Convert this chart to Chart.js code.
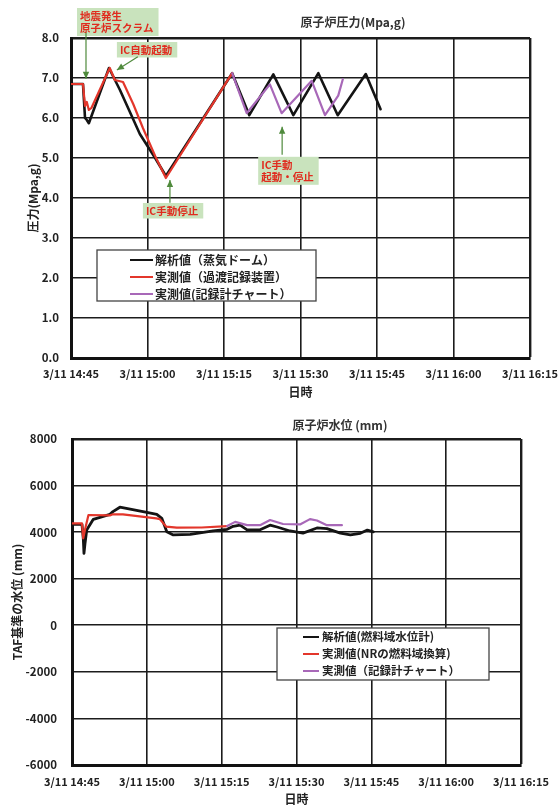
<!DOCTYPE html>
<html>
<head>
<meta charset="utf-8">
<script src="https://cdn.jsdelivr.net/npm/chart.js@4.4.0/dist/chart.umd.min.js"></script>
<style>
  html, body { margin: 0; padding: 0; background: #fff; }
  #page { position: relative; width: 558px; height: 807px; }
  canvas { position: absolute; left: 0; }
</style>
</head>
<body>
<div id="page">
  <canvas id="pressure" width="558" height="400" style="top:0"></canvas>
  <canvas id="level" width="558" height="407" style="top:400px"></canvas>
</div>
<script>
// ---- time axis: minutes after 3/11 14:45 ----
const timeTicks = [0, 15, 30, 45, 60, 75, 90];

// ---- reactor pressure (MPa gauge) ----
const presTicks = [0, 1, 2, 3, 4, 5, 6, 7, 8];
const presCalcT = [0, 2.35, 2.75, 3.1, 3.5, 7.45, 9.6, 13.5, 16.5, 18.6, 25.2, 31.6, 34.96, 39.67, 43.6, 48.5, 52.3, 57.8, 60.7];
const presCalcV = [6.85, 6.85, 6.0, 5.95, 5.87, 7.25, 6.7, 5.6, 5.0, 4.55, 5.85, 7.12, 6.07, 7.09, 6.07, 7.12, 6.07, 7.1, 6.22];
const presTrT = [0, 2.35, 2.75, 3.1, 3.5, 4.0, 7.6, 8.6, 10.2, 12.2, 14.1, 16.5, 18.6, 31.6];
const presTrV = [6.85, 6.85, 6.3, 6.4, 6.2, 6.25, 7.25, 6.95, 6.9, 6.35, 5.75, 5.05, 4.5, 7.12];
const presChT = [31.6, 34.45, 39.0, 41.3, 47.2, 49.8, 52.4, 53.3];
const presChV = [7.12, 6.12, 6.84, 6.12, 6.93, 6.07, 6.56, 6.97];

// ---- reactor water level above TAF (mm) ----
const lvlTicks = [-6000, -4000, -2000, 0, 2000, 4000, 6000, 8000];
const lvlCalcT = [0, 2.0, 2.27, 2.4, 2.6, 2.95, 4.27, 7.6, 8.2, 9.6, 15.0, 17.0, 18.0, 19.0, 20.3, 23.7, 28.3, 31.1, 32.3, 33.7, 35.1, 37.7, 39.7, 41.1, 43.7, 46.3, 49.1, 51.1, 53.8, 55.8, 57.8, 59.2, 60.4];
const lvlCalcV = [4337, 4337, 3700, 3090, 3500, 4090, 4550, 4766, 4880, 5070, 4850, 4766, 4594, 4020, 3880, 3900, 4050, 4120, 4250, 4300, 4100, 4100, 4300, 4220, 4050, 3960, 4180, 4150, 3960, 3880, 3950, 4090, 4010];
const lvlNrT = [0, 2.0, 2.25, 2.6, 3.3, 7.6, 8.2, 10.2, 16.9, 17.6, 18.9, 21.0, 26.0, 31.1];
const lvlNrV = [4380, 4380, 3735, 4100, 4736, 4720, 4766, 4766, 4590, 4560, 4234, 4190, 4200, 4260];
const lvlChT = [31.1, 32.7, 35.1, 37.7, 39.7, 42.3, 45.7, 47.7, 49.1, 51.1, 54.1];
const lvlChV = [4260, 4440, 4300, 4300, 4520, 4350, 4330, 4560, 4500, 4300, 4300];

const FONT = '"Noto Sans CJK JP", "Noto Sans", sans-serif';
const INK = '#222';

function toPoints(ts, vs) { return ts.map((t, i) => ({ x: t, y: vs[i] })); }

function timeLabel(min) {
  const total = 14 * 60 + 45 + min;
  const h = Math.floor(total / 60), m = total % 60;
  return '3/11 ' + h + ':' + String(m).padStart(2, '0');
}

// chart title, inset legend and call-out notes drawn on top of the plot
const decor = {
  id: 'decor',
  afterDraw(chart, args, opts) {
    const ctx = chart.ctx, area = chart.chartArea;
    const xs = chart.scales.x, ys = chart.scales.y;
    ctx.save();
    // title
    ctx.font = 'bold 12px ' + FONT;
    ctx.fillStyle = '#333';
    ctx.textAlign = 'center';
    ctx.textBaseline = 'middle';
    ctx.fillText(opts.title.text, area.left + opts.title.dx, opts.title.y);

    // legend box
    const lg = opts.legend;
    const bx = area.left + lg.dx, by = area.top + lg.dy;
    ctx.fillStyle = '#fff';
    ctx.fillRect(bx, by, lg.w, lg.h);
    ctx.strokeStyle = '#444';
    ctx.lineWidth = 1.3;
    ctx.strokeRect(bx, by, lg.w, lg.h);
    ctx.font = 'bold ' + lg.size + 'px ' + FONT;
    ctx.textAlign = 'left';
    ctx.textBaseline = 'middle';
    chart.data.datasets.forEach((ds, i) => {
      const yy = by + lg.firstRow + i * lg.rowGap;
      ctx.strokeStyle = ds.borderColor;
      ctx.lineWidth = 2;
      ctx.beginPath();
      ctx.moveTo(bx + lg.lineX0, yy);
      ctx.lineTo(bx + lg.lineX1, yy);
      ctx.stroke();
      ctx.fillStyle = '#222';
      ctx.fillText(ds.label, bx + lg.textX, yy);
    });

    // call-out notes with arrows
    (opts.notes || []).forEach(n => {
      ctx.font = 'bold 10.5px ' + FONT;
      const widths = n.lines.map(s => ctx.measureText(s).width);
      const w = Math.max(...widths) + 8;
      const h = n.lines.length * 12.5 + 3;
      const nx = xs.getPixelForValue(n.x), ny = ys.getPixelForValue(n.y);
      ctx.fillStyle = '#c9e3bd';
      ctx.fillRect(nx, ny, w, h);
      ctx.fillStyle = '#e02b1e';
      ctx.textAlign = 'left';
      ctx.textBaseline = 'middle';
      n.lines.forEach((s, k) => ctx.fillText(s, nx + 3, ny + 8 + k * 12.5));
      // arrow
      const x0 = xs.getPixelForValue(n.from[0]), y0 = ys.getPixelForValue(n.from[1]);
      const x1 = xs.getPixelForValue(n.to[0]), y1 = ys.getPixelForValue(n.to[1]);
      ctx.strokeStyle = '#4f8a3c';
      ctx.fillStyle = '#4f8a3c';
      ctx.lineWidth = 1.2;
      ctx.beginPath();
      ctx.moveTo(x0, y0);
      ctx.lineTo(x1, y1);
      ctx.stroke();
      const a = Math.atan2(y1 - y0, x1 - x0), L = 7, W = 3.2;
      ctx.beginPath();
      ctx.moveTo(x1, y1);
      ctx.lineTo(x1 - L * Math.cos(a) + W * Math.sin(a), y1 - L * Math.sin(a) - W * Math.cos(a));
      ctx.lineTo(x1 - L * Math.cos(a) - W * Math.sin(a), y1 - L * Math.sin(a) + W * Math.cos(a));
      ctx.closePath();
      ctx.fill();
    });
    ctx.restore();
  }
};

function edgeWidth(max) {
  return c => (c.tick && c.tick.value === max ? 2.4 : 1.6);
}

function makeChart(id, cfg) {
  return new Chart(document.getElementById(id), {
    type: 'line',
    data: { datasets: cfg.datasets },
    options: {
      responsive: false,
      animation: false,
      layout: { padding: { left: 0, top: cfg.top, right: cfg.right, bottom: 0 } },
      elements: { point: { radius: 0 }, line: { tension: 0, borderJoinStyle: 'round', borderCapStyle: 'round' } },
      plugins: {
        legend: { display: false },
        tooltip: { enabled: false },
        decor: cfg.decor
      },
      scales: {
        x: {
          type: 'linear', min: 0, max: 90,
          afterBuildTicks: s => { s.ticks = timeTicks.map(v => ({ value: v })); },
          afterFit: s => { s.height = cfg.xAxisH; s.paddingLeft = 0; s.paddingRight = 0; },
          ticks: { callback: v => timeLabel(v), maxRotation: 0, autoSkip: false, padding: cfg.xPad,
                   color: INK, font: { family: FONT, size: 11, weight: 'bold' } },
          grid: { color: '#1c1c1c', lineWidth: edgeWidth(90), drawTicks: false },
          border: { color: '#111', width: 3 },
          title: { display: true, text: '日時', color: INK, padding: { top: 0, bottom: 0 },
                   font: { family: FONT, size: 12, weight: 'bold' } }
        },
        y: {
          min: cfg.yTicks[0], max: cfg.yTicks[cfg.yTicks.length - 1],
          afterBuildTicks: s => { s.ticks = cfg.yTicks.map(v => ({ value: v })); },
          afterFit: s => { s.width = cfg.yAxisW; s.paddingTop = 0; s.paddingBottom = 0; },
          ticks: { callback: cfg.yFmt, padding: cfg.yPad, color: INK,
                   font: { family: FONT, size: 11.5, weight: 'bold' } },
          grid: { color: '#1c1c1c', lineWidth: edgeWidth(cfg.yTicks[cfg.yTicks.length - 1]), drawTicks: false },
          border: { color: '#111', width: 3 },
          title: { display: true, text: cfg.yTitle, color: INK, padding: { top: cfg.yTitlePad, bottom: 0 },
                   font: { family: FONT, size: 12, weight: 'bold' } }
        }
      }
    },
    plugins: [decor]
  });
}

makeChart('pressure', {
  top: 38, right: 28, xAxisH: 42, yAxisW: 71, xPad: 9, yPad: 12, yTitlePad: 26,
  yTicks: presTicks,
  yFmt: v => v.toFixed(1),
  yTitle: '圧力(Mpa,g)',
  datasets: [
    { label: '解析値（蒸気ドーム）', data: toPoints(presCalcT, presCalcV), borderColor: '#141414', borderWidth: 2.6, order: 2 },
    { label: '実測値（過渡記録装置）', data: toPoints(presTrT, presTrV), borderColor: '#e3362b', borderWidth: 2.2, order: 1 },
    { label: '実測値(記録計チャート）', data: toPoints(presChT, presChV), borderColor: '#a868b8', borderWidth: 2.2, order: 0 }
  ],
  decor: {
    title: { text: '原子炉圧力(Mpa,g)', dx: 282, y: 22 },
    legend: { dx: 26, dy: 212, w: 219, h: 51, firstRow: 10, rowGap: 17, lineX0: 33, lineX1: 56, textX: 58, size: 12 },
    notes: [
      { lines: ['地震発生', '原子炉スクラム'], x: 1.18, y: 8.75, from: [2.94, 8.13], to: [2.94, 6.98] },
      { lines: ['IC自動起動'], x: 9.0, y: 7.9, from: [13.1, 7.53], to: [9.0, 7.2] },
      { lines: ['IC手動停止'], x: 14.1, y: 3.875, from: [19.4, 3.88], to: [19.4, 4.45] },
      { lines: ['IC手動', '起動・停止'], x: 36.7, y: 5.03, from: [41.4, 5.08], to: [41.4, 5.78] }
    ]
  }
});

makeChart('level', {
  top: 39, right: 37, xAxisH: 42, yAxisW: 72, xPad: 10, yPad: 15, yTitlePad: 10,
  yTicks: lvlTicks,
  yFmt: v => String(v),
  yTitle: 'TAF基準の水位 (mm)',
  datasets: [
    { label: '解析値(燃料域水位計)', data: toPoints(lvlCalcT, lvlCalcV), borderColor: '#141414', borderWidth: 2.8, order: 2 },
    { label: '実測値(NRの燃料域換算)', data: toPoints(lvlNrT, lvlNrV), borderColor: '#e3362b', borderWidth: 2.2, order: 1 },
    { label: '実測値（記録計チャート）', data: toPoints(lvlChT, lvlChV), borderColor: '#a868b8', borderWidth: 2.2, order: 0 }
  ],
  decor: {
    title: { text: '原子炉水位 (mm)', dx: 268, y: 25 },
    legend: { dx: 205, dy: 189, w: 212, h: 52, firstRow: 9, rowGap: 17, lineX0: 26, lineX1: 42, textX: 45, size: 11.5 },
    notes: []
  }
});
</script>
</body>
</html>
